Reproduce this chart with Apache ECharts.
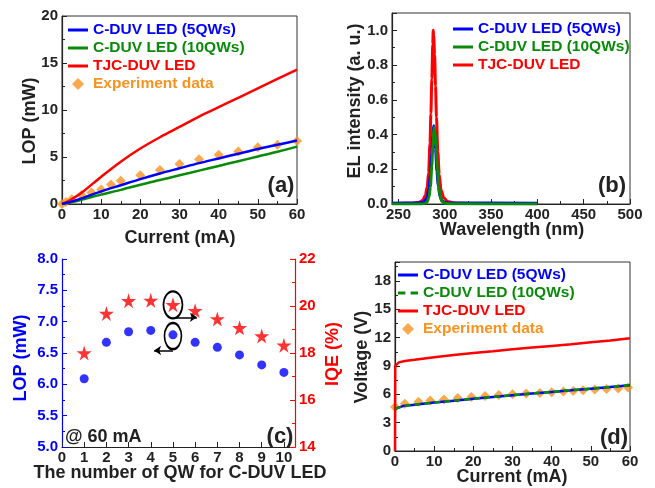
<!DOCTYPE html>
<html><head><meta charset="utf-8">
<script src="https://cdn.jsdelivr.net/npm/echarts@6/dist/echarts.min.js"></script>
<style>html,body{margin:0;padding:0;background:#fff}#c{width:655px;height:488px}</style>
</head><body><div id="c"></div>
<script>
// ---------- Panel (a): LOP vs current ----------
const aCurrent = [0, 2, 5, 10, 15, 20, 25, 30, 35, 40, 45, 50, 55, 60];
const aBlue5QW = [0, 0.2, 0.6, 1.35, 2.0, 2.65, 3.25, 3.8, 4.35, 4.85, 5.35, 5.85, 6.3, 6.75];
const aGreen10QW = [0, 0.15, 0.45, 1.0, 1.5, 2.05, 2.55, 3.05, 3.55, 4.05, 4.55, 5.05, 5.55, 6.1];
const aRedTJC = [0, 0.4, 1.2, 2.9, 4.5, 5.9, 7.1, 8.2, 9.3, 10.3, 11.3, 12.3, 13.3, 14.3];
const aExpCurrent = [0, 1, 2.5, 5, 7.5, 10, 12.5, 15, 20, 25, 30, 35, 40, 45, 50, 55, 60];
const aExpLOP = [0, 0.2, 0.5, 0.95, 1.22, 1.55, 2.07, 2.47, 3.05, 3.62, 4.25, 4.77, 5.25, 5.58, 6.03, 6.3, 6.7];

// ---------- Panel (b): EL spectra ----------
const bRedWl = [243, 265, 272, 276, 279, 281, 282.5, 284, 285, 286, 287, 287.5, 288, 289, 290, 291, 292.5, 294, 296, 299, 303, 310, 330, 400];
const bRedEL = [0.003, 0.004, 0.01, 0.02, 0.05, 0.1, 0.18, 0.35, 0.52, 0.72, 0.92, 1.0, 0.97, 0.86, 0.68, 0.5, 0.3, 0.17, 0.08, 0.035, 0.015, 0.006, 0.003, 0.002];
const bBlueWl = [243, 270, 276, 279, 281, 283, 284.5, 286, 287, 288, 289, 290, 291.5, 293, 295, 297, 300, 305, 400];
const bBlueEL = [0.005, 0.006, 0.01, 0.02, 0.04, 0.09, 0.17, 0.29, 0.39, 0.45, 0.41, 0.32, 0.19, 0.1, 0.04, 0.018, 0.009, 0.006, 0.005];
const bGreenWl = [243, 275, 279, 281, 283, 284.5, 286, 287, 288, 288.5, 289.5, 290.5, 292, 293.5, 295, 297, 300, 305, 400];
const bGreenEL = [0, 0, 0.004, 0.012, 0.04, 0.1, 0.22, 0.33, 0.42, 0.44, 0.41, 0.33, 0.2, 0.1, 0.045, 0.015, 0.004, 0.001, 0];

// ---------- Panel (c): LOP / IQE vs QW number ----------
const cQW = [1, 2, 3, 4, 5, 6, 7, 8, 9, 10];
const cLOP = [6.09, 6.67, 6.84, 6.86, 6.79, 6.67, 6.59, 6.47, 6.31, 6.19];
const cIQE = [18.0, 19.68, 20.22, 20.24, 20.05, 19.8, 19.45, 19.07, 18.72, 18.33];
// annotation marks (ellipses + arrows) in data coordinates
const cIQEEllipse = [5, 20.05];
const cLOPEllipse = [5, 6.77];
const cIQEArrow = [[5.1, 19.52], [6.08, 19.52]];
const cLOPArrow = [[5.0, 6.54], [4.15, 6.54]];

// ---------- Panel (d): voltage vs current ----------
const dCurrent = [0, 0.5, 2, 5, 10, 15, 20, 25, 30, 35, 40, 45, 50, 55, 60];
const dBlue5QW = [4.45, 4.6, 4.75, 4.9, 5.12, 5.33, 5.53, 5.72, 5.9, 6.08, 6.25, 6.42, 6.6, 6.78, 6.95];
const dGreen10QW = [4.46, 4.61, 4.76, 4.91, 5.13, 5.34, 5.54, 5.73, 5.91, 6.09, 6.26, 6.43, 6.61, 6.79, 6.96];
const dRedCurrent = [0, 0.05, 0.3, 1, 2.5, 5, 10, 15, 20, 25, 30, 35, 40, 45, 50, 55, 60];
const dRedTJC = [0, 9.0, 9.2, 9.38, 9.52, 9.65, 9.92, 10.17, 10.38, 10.56, 10.76, 10.94, 11.12, 11.3, 11.5, 11.7, 11.93];
const dExpCurrent = [0, 2.5, 6, 9, 12.5, 16, 19.5, 23, 26.5, 30, 33.5, 37, 40, 43, 45.5, 48, 51, 54, 57, 59.5];
const dExpV = [4.65, 5.0, 5.2, 5.35, 5.45, 5.6, 5.72, 5.82, 5.92, 6.0, 6.08, 6.15, 6.22, 6.3, 6.36, 6.42, 6.5, 6.56, 6.62, 6.72];

// ---------- styling ----------
const FONT = '"Liberation Sans", Arial, sans-serif';
const BLUE = '#0000FF', GREEN = '#0A8A0A', RED = '#FF0000', ORANGE = '#F7931E', BLACK = '#222';
const STAR = 'path://M50,0 L61,35 L98,35 L68,57 L79,91 L50,70 L21,91 L32,57 L2,35 L39,35 Z';
const ICON_LINE = 'path://M0,0 L20,0 L20,3 L0,3 Z';
const ICON_DASH = 'path://M0,0 L7,0 L7,3 L0,3 Z M12,0 L19,0 L19,3 L12,3 Z';
const ICON_DIAMOND = 'path://M5,0 L10,5 L5,10 L0,5 Z';
const Z1 = '\u200b', Z2 = '\u200b\u200b';
const pairs = (xs, ys) => xs.map((x, i) => [x, ys[i]]);

function axis(kind, grid, opt, color) {
  color = color || BLACK;
  return Object.assign({
    type: 'value', gridIndex: grid,
    axisLine: {show: true, onZero: false, lineStyle: {color: color, width: 1.2}},
    axisTick: {show: true, inside: true, length: 5, lineStyle: {color: color, width: 1}},
    minorTick: {show: true, splitNumber: 2, length: 3, lineStyle: {color: color, width: 1}},
    splitLine: {show: false},
    axisLabel: {color: color, fontFamily: FONT, fontWeight: 'bold', fontSize: 15, margin: kind === 'x' ? 3 : 4}
  }, opt);
}

const gridBox = {show: true, borderColor: '#333', borderWidth: 1, backgroundColor: 'transparent'};

function legendCfg(left, top, items) {
  return {
    left: left, top: top, orient: 'vertical', padding: 0, itemGap: 2,
    itemWidth: 20, itemHeight: 12, selectedMode: false,
    formatter: n => n.replace(/\u200b/g, ''),
    textStyle: {fontFamily: FONT, fontWeight: 'bold', fontSize: 15.5, lineHeight: 16},
    data: items.map(it => ({name: it[0], icon: it[2], textStyle: {color: it[1]}}))
  };
}

function txt(x, y, text, size, color, rot, align) {
  return {
    type: 'text', x: x, y: y, rotation: rot || 0, silent: true,
    style: {text: text, fill: color || BLACK, font: 'bold ' + size + 'px ' + FONT,
      textAlign: align || 'center', textVerticalAlign: 'middle'}
  };
}

const chart = echarts.init(document.getElementById('c'), null, {renderer: 'canvas'});
chart.setOption({
  animation: false,
  backgroundColor: '#fff',
  grid: [
    Object.assign({left: 62, top: 16, width: 235, height: 188}, gridBox),
    Object.assign({left: 392, top: 13, width: 238, height: 191}, gridBox),
    {left: 62, top: 259, width: 233, height: 188, show: false},
    Object.assign({left: 395, top: 262, width: 235, height: 189}, gridBox)
  ],
  xAxis: [
    axis('x', 0, {min: 0, max: 60, interval: 10}),
    axis('x', 1, {min: 243, max: 500, splitNumber: 5,
      axisLabel: {color: BLACK, fontFamily: FONT, fontWeight: 'bold', fontSize: 15, margin: 3,
        formatter: v => (Math.abs(v % 50) < 1e-6 ? String(v) : '')}}),
    axis('x', 2, {min: 0, max: 10.5, interval: 1, minorTick: {show: false},
      axisLabel: {color: BLACK, fontFamily: FONT, fontWeight: 'bold', fontSize: 15, margin: 3, showMaxLabel: false}}),
    axis('x', 3, {min: 0, max: 60, interval: 10})
  ],
  yAxis: [
    axis('y', 0, {min: 0, max: 20, interval: 5}),
    axis('y', 1, {min: 0, max: 1.1, interval: 0.2,
      axisLabel: {color: BLACK, fontFamily: FONT, fontWeight: 'bold', fontSize: 15, margin: 4, showMaxLabel: false,
        formatter: v => v.toFixed(1)}}),
    axis('y', 2, {min: 5, max: 8, interval: 0.5,
      axisLabel: {color: BLUE, fontFamily: FONT, fontWeight: 'bold', fontSize: 15, margin: 4, formatter: v => v.toFixed(1)}}, BLUE),
    axis('y', 2, {min: 14, max: 22, interval: 2, position: 'right'}, RED),
    axis('y', 3, {min: 0, max: 20, interval: 3,
      axisLabel: {color: BLACK, fontFamily: FONT, fontWeight: 'bold', fontSize: 15, margin: 4, showMaxLabel: false}})
  ],
  legend: [
    legendCfg(68, 22, [['C-DUV LED (5QWs)', BLUE, ICON_LINE], ['C-DUV LED (10QWs)', GREEN, ICON_LINE],
      ['TJC-DUV LED', RED, ICON_LINE], ['Experiment data', ORANGE, ICON_DIAMOND]]),
    legendCfg(453, 21, [['C-DUV LED (5QWs)' + Z1, BLUE, ICON_LINE], ['C-DUV LED (10QWs)' + Z1, GREEN, ICON_LINE],
      ['TJC-DUV LED' + Z1, RED, ICON_LINE]]),
    legendCfg(398, 267, [['C-DUV LED (5QWs)' + Z2, BLUE, ICON_LINE], ['C-DUV LED (10QWs)' + Z2, GREEN, ICON_DASH],
      ['TJC-DUV LED' + Z2, RED, ICON_LINE], ['Experiment data' + Z2, ORANGE, ICON_DIAMOND]])
  ],
  series: [
    // (a)
    {type: 'line', name: 'TJC-DUV LED', xAxisIndex: 0, yAxisIndex: 0, data: pairs(aCurrent, aRedTJC),
      symbol: 'none', smooth: 0.3, lineStyle: {color: RED, width: 2.5}, itemStyle: {color: RED}},
    {type: 'line', name: 'C-DUV LED (10QWs)', xAxisIndex: 0, yAxisIndex: 0, data: pairs(aCurrent, aGreen10QW),
      symbol: 'none', smooth: 0.3, lineStyle: {color: GREEN, width: 2.5}, itemStyle: {color: GREEN}},
    {type: 'line', name: 'C-DUV LED (5QWs)', xAxisIndex: 0, yAxisIndex: 0, data: pairs(aCurrent, aBlue5QW),
      symbol: 'none', smooth: 0.3, lineStyle: {color: BLUE, width: 2.5}, itemStyle: {color: BLUE}},
    {type: 'scatter', name: 'Experiment data', xAxisIndex: 0, yAxisIndex: 0, data: pairs(aExpCurrent, aExpLOP),
      symbol: 'diamond', symbolSize: 10, itemStyle: {color: ORANGE}},
    // (b)
    {type: 'line', name: 'TJC-DUV LED' + Z1, xAxisIndex: 1, yAxisIndex: 1, data: pairs(bRedWl, bRedEL),
      symbol: 'none', smooth: 0.3, smoothMonotone: 'x', lineStyle: {color: RED, width: 3}, itemStyle: {color: RED}},
    {type: 'line', name: 'C-DUV LED (5QWs)' + Z1, xAxisIndex: 1, yAxisIndex: 1, data: pairs(bBlueWl, bBlueEL),
      symbol: 'none', smooth: 0.3, smoothMonotone: 'x', lineStyle: {color: BLUE, width: 3}, itemStyle: {color: BLUE}},
    {type: 'line', name: 'C-DUV LED (10QWs)' + Z1, xAxisIndex: 1, yAxisIndex: 1, data: pairs(bGreenWl, bGreenEL),
      symbol: 'none', smooth: 0.3, smoothMonotone: 'x', lineStyle: {color: GREEN, width: 3}, itemStyle: {color: GREEN}},
    // (c)
    {type: 'scatter', name: 'LOP', xAxisIndex: 2, yAxisIndex: 2, data: pairs(cQW, cLOP),
      symbol: 'circle', symbolSize: 9, itemStyle: {color: BLUE},
      markPoint: {silent: true, symbol: 'circle', symbolSize: [17, 26], label: {show: false},
        itemStyle: {color: 'rgba(0,0,0,0)', borderColor: '#000', borderWidth: 2},
        data: [{coord: cLOPEllipse}]},
      markLine: {silent: true, symbol: ['none', 'arrow'], symbolSize: 7, label: {show: false},
        lineStyle: {color: '#000', width: 1.5, type: 'solid'},
        data: [[{coord: cLOPArrow[0]}, {coord: cLOPArrow[1]}]]}},
    {type: 'scatter', name: 'IQE', xAxisIndex: 2, yAxisIndex: 3, data: pairs(cQW, cIQE),
      symbol: STAR, symbolSize: 15, itemStyle: {color: RED},
      markPoint: {silent: true, symbol: 'circle', symbolSize: [19, 27], label: {show: false},
        itemStyle: {color: 'rgba(0,0,0,0)', borderColor: '#000', borderWidth: 2},
        data: [{coord: cIQEEllipse}]},
      markLine: {silent: true, symbol: ['none', 'arrow'], symbolSize: 7, label: {show: false},
        lineStyle: {color: '#000', width: 1.5, type: 'solid'},
        data: [[{coord: cIQEArrow[0]}, {coord: cIQEArrow[1]}]]}},
    // (d)
    {type: 'line', name: 'TJC-DUV LED' + Z2, xAxisIndex: 3, yAxisIndex: 4, data: pairs(dRedCurrent, dRedTJC),
      symbol: 'none', lineStyle: {color: RED, width: 2.5}, itemStyle: {color: RED}},
    {type: 'line', name: 'C-DUV LED (5QWs)' + Z2, xAxisIndex: 3, yAxisIndex: 4, data: pairs(dCurrent, dBlue5QW),
      symbol: 'none', lineStyle: {color: BLUE, width: 2.5}, itemStyle: {color: BLUE}},
    {type: 'line', name: 'C-DUV LED (10QWs)' + Z2, xAxisIndex: 3, yAxisIndex: 4, data: pairs(dCurrent, dGreen10QW),
      symbol: 'none', lineStyle: {color: GREEN, width: 2.5, type: [6, 4]}, itemStyle: {color: GREEN}},
    {type: 'scatter', name: 'Experiment data' + Z2, xAxisIndex: 3, yAxisIndex: 4, data: pairs(dExpCurrent, dExpV),
      symbol: 'diamond', symbolSize: 10, itemStyle: {color: ORANGE}}
  ],
  graphic: [
    txt(180, 238, 'Current (mA)', 18),
    txt(30, 121, 'LOP (mW)', 18, BLACK, Math.PI / 2),
    txt(512, 230, 'Wavelength (nm)', 18),
    txt(355, 101, 'EL intensity (a. u.)', 18, BLACK, Math.PI / 2),
    txt(180, 473, 'The number of QW for C-DUV LED', 18),
    txt(21, 358, 'LOP (mW)', 18, BLUE, Math.PI / 2),
    txt(333, 354, 'IQE (%)', 18, RED, Math.PI / 2),
    txt(512, 477, 'Current (mA)', 18),
    txt(362, 357, 'Voltage (V)', 18, BLACK, Math.PI / 2),
    txt(281, 186, '(a)', 22),
    txt(612, 186, '(b)', 22),
    txt(280, 437, '(c)', 22),
    txt(614, 438, '(d)', 22),
    txt(65, 437, '@ 60 mA', 18, BLACK, 0, 'left')
  ]
});
</script>
</body></html>
